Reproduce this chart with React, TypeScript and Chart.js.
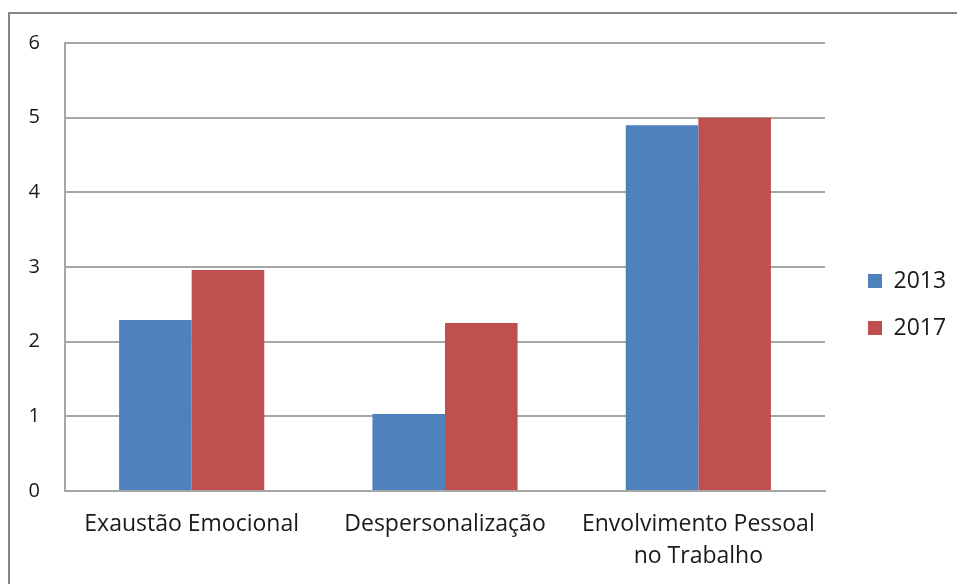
import React, { useEffect, useRef } from "react";
import { Chart, registerables } from "chart.js";

Chart.register(...registerables);

const categories: (string | string[])[] = [
  "Exaustão Emocional",
  "Despersonalização",
  ["Envolvimento Pessoal", "no Trabalho"],
];
const values2013 = [2.29, 1.03, 4.9];
const values2017 = [2.96, 2.25, 5.0];
const seriesLabels = ["2013", "2017"];
const yTicks = [0, 1, 2, 3, 4, 5, 6];

const FONT = "'Open Sans', 'DejaVu Sans', sans-serif";
const LEGEND_WIDTH = 132;
const LEGEND_PADDING = 24;
const LEGEND_SHIFT_X = 19;
const LEGEND_SHIFT_Y = -9;

const legendFix = {
  id: "legendFix",
  beforeLayout(chart: any) {
    const lg = chart.legend;
    if (lg && !lg.__patched) {
      const origFit = lg.fit.bind(lg);
      lg.fit = function () {
        origFit();
        this.width = LEGEND_WIDTH;
      };
      const origDraw = lg.draw.bind(lg);
      lg.draw = function (...args: any[]) {
        const ctx = this.ctx;
        ctx.save();
        ctx.translate(LEGEND_SHIFT_X, LEGEND_SHIFT_Y);
        origDraw(...args);
        ctx.restore();
      };
      lg.__patched = true;
    }
  },
};

export default function App() {
  const ref = useRef<HTMLCanvasElement | null>(null);
  useEffect(() => {
    if (!ref.current) return;
    const chart = new Chart(ref.current, {
      type: "bar",
      data: {
        labels: categories,
        datasets: [
          {
            label: seriesLabels[0],
            data: values2013,
            backgroundColor: "#4F81BD",
            borderWidth: 0,
          },
          {
            label: seriesLabels[1],
            data: values2017,
            backgroundColor: "#C0504D",
            borderWidth: 0,
          },
        ],
      },
      plugins: [legendFix],
      options: {
        animation: false,
        responsive: false,
        maintainAspectRatio: false,
        layout: { padding: { top: 43, left: 0, right: 0, bottom: 0 } },
        datasets: { bar: { barPercentage: 1, categoryPercentage: 0.573 } },
        plugins: {
          tooltip: { enabled: false },
          legend: {
            position: "right",
            labels: {
              font: { family: FONT, size: 23 },
              color: "#1a1a1a",
              boxWidth: 14,
              boxHeight: 14,
              padding: LEGEND_PADDING,
            },
          },
        },
        scales: {
          x: {
            grid: { display: false, drawTicks: false },
            border: { display: true, color: "#A6A6A6", width: 2 },
            ticks: {
              font: { family: FONT, size: 23, lineHeight: 1.4 },
              color: "#1a1a1a",
              padding: 17,
              maxRotation: 0,
              autoSkip: false,
            },
            afterFit: (s: any) => {
              s.height = 584 - 491;
            },
          },
          y: {
            min: 0,
            max: 6,
            afterBuildTicks: (s: any) => {
              s.ticks = yTicks.map((v) => ({ value: v }));
            },
            grid: { color: "#A6A6A6", lineWidth: 2, drawTicks: false },
            border: { display: true, color: "#A6A6A6", width: 2 },
            ticks: {
              font: { family: FONT, size: 20 },
              color: "#1a1a1a",
              padding: 25,
            },
            afterFit: (s: any) => {
              s.width = 65;
            },
          },
        },
      },
    });
    return () => chart.destroy();
  }, []);

  return (
    <div
      style={{
        position: "fixed",
        left: 0,
        top: 0,
        width: 957,
        height: 584,
        overflow: "hidden",
        background: "#fff",
      }}
    >
      <div
        style={{
          position: "absolute",
          left: 8,
          top: 12,
          width: 1200,
          height: 1200,
          border: "2px solid #868686",
        }}
      />
      <canvas
        ref={ref}
        width={957}
        height={584}
        style={{ position: "absolute", left: 0, top: 0, width: 957, height: 584 }}
      />
    </div>
  );
}
